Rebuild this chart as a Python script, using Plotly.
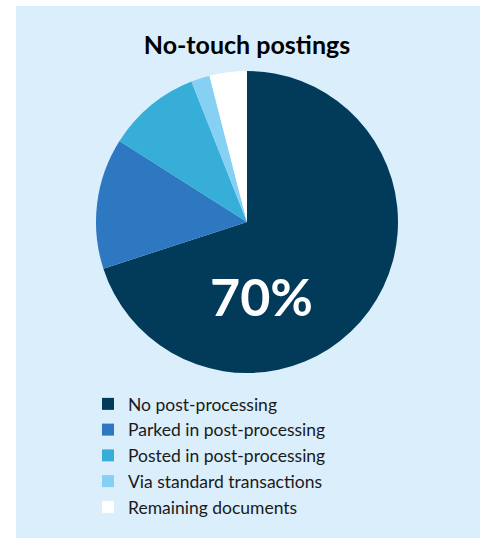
import plotly.graph_objects as go

categories = ["No post-processing", "Parked in post-processing", "Posted in post-processing",
              "Via standard transactions", "Remaining documents"]
values = [70, 14, 10, 2, 4]
colors = ["#023a5a", "#2e78c1", "#36aed8", "#86d0f3", "#ffffff"]
title_text = "No-touch postings"

W, H = 483, 538
ml, mr, mt, mb = 16, 3, 6, 0
pw, ph = W - ml - mr, H - mt - mb

def px_x(x):
    return (x - ml) / pw

def px_y(y):
    return (H - mb - y) / ph

cx, cy, r = 247, 222, 151

fig = go.Figure(go.Pie(
    labels=categories,
    values=values,
    marker=dict(colors=colors, line=dict(width=0)),
    sort=False,
    direction="clockwise",
    rotation=0,
    textinfo="none",
    hoverinfo="label+percent",
    domain=dict(x=[px_x(cx - r), px_x(cx + r)], y=[px_y(cy + r), px_y(cy - r)]),
))

fig.update_layout(
    width=W, height=H,
    margin=dict(l=ml, r=mr, t=mt, b=mb),
    paper_bgcolor="#ffffff",
    font=dict(family="Lato, sans-serif", color="#1a1a1a"),
    title=dict(text=f"<b>{title_text}</b>", xref="paper", x=px_x(247), xanchor="center",
               yref="container", y=1 - 45 / H, yanchor="middle",
               font=dict(size=25, color="#000000", family="Lato, sans-serif")),
    shapes=[dict(type="rect", xref="paper", yref="paper", x0=0, x1=1, y0=0, y1=1,
                 fillcolor="#daeefb", line=dict(width=0), layer="below")],
    legend=dict(x=px_x(88), y=px_y(386), xanchor="left", yanchor="top",
                font=dict(size=17.5, color="#1a1a1a"), bgcolor="rgba(0,0,0,0)",
                traceorder="normal"),
    annotations=[dict(text=f"<b>{values[0]}%</b>", xref="paper", yref="paper",
                      x=px_x(261), y=px_y(296), xanchor="center", yanchor="middle",
                      showarrow=False, font=dict(size=52, color="#ffffff",
                                                 family="Lato, sans-serif"))],
)

fig.write_html("out.html", config={"displayModeBar": False},
               post_script="document.body.style.margin='0px';document.body.style.overflow='hidden';")
